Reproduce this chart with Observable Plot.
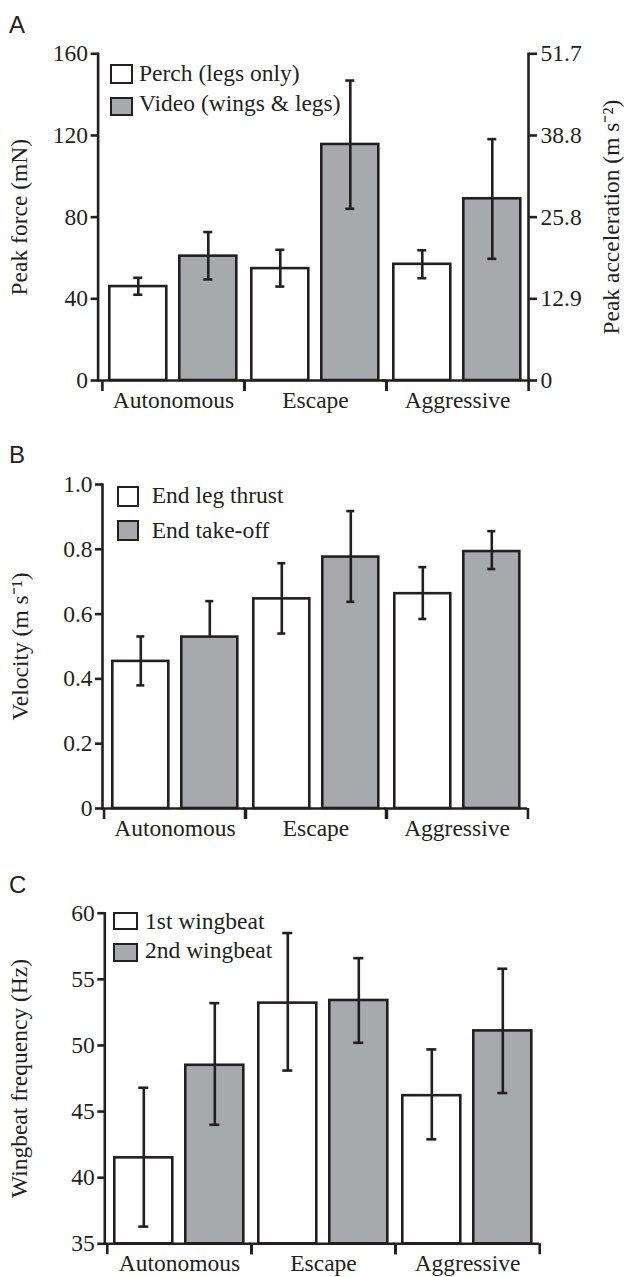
<!DOCTYPE html>
<html>
<head>
<meta charset="utf-8">
<script src="https://cdn.jsdelivr.net/npm/d3@7"></script>
<script src="https://cdn.jsdelivr.net/npm/@observablehq/plot@0.6"></script>
<style>
html, body { margin: 0; padding: 0; background: #fff; width: 624px; height: 1277px; overflow: hidden; }
.panel { position: absolute; left: 0; width: 624px; }
.letter { position: absolute; left: 9px; font-family: "Liberation Sans", Arial, sans-serif; font-size: 24px; line-height: 1; color: #231f20; }
.sw { position: absolute; box-sizing: border-box; border: 2.7px solid #231f20; }
.lt { position: absolute; font-family: "Liberation Serif", "Times New Roman", serif; font-size: 23.5px; line-height: 1; color: #231f20; white-space: nowrap; }
</style>
</head>
<body>
<div id="root"></div>
<script>
// ---------- data ----------
const groups = ["Autonomous", "Escape", "Aggressive"];

// Panel A: peak force (mN)
const seriesA = ["Perch (legs only)", "Video (wings & legs)"];
const perchMean = [46.0, 54.8, 56.9];
const perchLo   = [42.0, 46.0, 50.1];
const perchHi   = [50.3, 64.0, 63.8];
const videoMean = [60.9, 115.6, 89.0];
const videoLo   = [49.5, 84.1, 59.6];
const videoHi   = [72.7, 146.9, 118.2];
const forceTicks = [0, 40, 80, 120, 160];
const forceTickLabels = ["0", "40", "80", "120", "160"];
const accelTickLabels = ["0", "12.9", "25.8", "38.8", "51.7"];

// Panel B: velocity (m s-1)
const seriesB = ["End leg thrust", "End take-off"];
const legThrustMean = [0.454, 0.647, 0.663];
const legThrustLo   = [0.380, 0.540, 0.585];
const legThrustHi   = [0.531, 0.757, 0.745];
const takeOffMean   = [0.529, 0.776, 0.793];
const takeOffLo     = [null, 0.638, 0.739];
const takeOffHi     = [0.640, 0.918, 0.856];
const velocityTicks = [0, 0.2, 0.4, 0.6, 0.8, 1.0];
const velocityTickLabels = ["0", "0.2", "0.4", "0.6", "0.8", "1.0"];

// Panel C: wingbeat frequency (Hz)
const seriesC = ["1st wingbeat", "2nd wingbeat"];
const beat1Mean = [41.5, 53.2, 46.2];
const beat1Lo   = [36.3, 48.1, 42.9];
const beat1Hi   = [46.8, 58.5, 49.7];
const beat2Mean = [48.5, 53.4, 51.1];
const beat2Lo   = [44.0, 50.2, 46.4];
const beat2Hi   = [53.2, 56.6, 55.8];
const freqTicks = [35, 40, 45, 50, 55, 60];
const freqTickLabels = ["35", "40", "45", "50", "55", "60"];

// ---------- style ----------
const INK = "#231f20";
const FILLS = ["#ffffff", "#a7a9ac"];
const FONT = "'Liberation Serif', 'Times New Roman', serif";
const FS = 23.5;
const SW = 2.6;

function rowsFor(series, means, los, his) {
  const rows = [];
  groups.forEach((g, gi) => {
    series.forEach((s, si) => {
      rows.push({group: g, series: s, value: means[si][gi], lo: los[si][gi], hi: his[si][gi]});
    });
  });
  return rows;
}

function makePanel(cfg) {
  const rows = rowsFor(cfg.series, cfg.means, cfg.los, cfg.his);
  const step = (624 - cfg.ml - cfg.mr) / groups.length;
  const y0 = cfg.yDomain[0];
  const fmt = new Map(cfg.yTicks.map((t, i) => [t, cfg.yTickLabels[i]]));
  const marks = [
    Plot.ruleY([y0], {stroke: INK, strokeWidth: SW, insetLeft: cfg.axisDx}),
    Plot.barY(rows, {fx: "group", x: "series", y1: y0, y2: "value", fill: "series", stroke: INK, strokeWidth: SW}),
    Plot.ruleX(rows, {fx: "group", x: "series", y1: d => d.lo ?? d.value, y2: "hi", stroke: INK, strokeWidth: SW}),
    Plot.tickY(rows, {fx: "group", x: "series", y: "hi", stroke: INK, strokeWidth: SW, insetLeft: 24, insetRight: 24}),
    Plot.tickY(rows.filter(d => d.lo != null), {fx: "group", x: "series", y: "lo", stroke: INK, strokeWidth: SW, insetLeft: 24, insetRight: 24}),
    Plot.frame({anchor: "left", facetAnchor: "left", dx: cfg.axisDx, stroke: INK, strokeWidth: SW}),
    Plot.axisY({anchor: "left", ticks: cfg.yTicks, tickFormat: d => fmt.get(d), tickSize: 7, tickPadding: 3, stroke: INK, strokeWidth: SW, dx: cfg.axisDx, label: null}),
    Plot.axisY({anchor: "left", ticks: [], label: cfg.yLabel, labelAnchor: "center", labelOffset: cfg.labelOffset, labelArrow: "none"}),
    Plot.axisFx({anchor: "bottom", tickSize: 0, tickPadding: 11, label: null}),
    Plot.axisFx({anchor: "bottom", fill: "none", tickSize: 11, dx: -step / 2, stroke: INK, strokeWidth: SW, label: null}),
    Plot.axisFx([groups[groups.length - 1]], {anchor: "bottom", fill: "none", tickSize: 11, dx: step / 2, stroke: INK, strokeWidth: SW, label: null})
  ];
  if (cfg.right) {
    const rfmt = new Map(cfg.yTicks.map((t, i) => [t, cfg.right.tickLabels[i]]));
    marks.push(
      Plot.frame({anchor: "right", facetAnchor: "right", stroke: INK, strokeWidth: SW}),
      Plot.axisY({anchor: "right", ticks: cfg.yTicks, tickFormat: d => rfmt.get(d), tickSize: 8, tickPadding: 4, stroke: INK, strokeWidth: SW, label: cfg.right.label, labelAnchor: "center", labelOffset: cfg.right.labelOffset, labelArrow: "none"})
    );
  }
  const chart = Plot.plot({
    width: 624,
    height: cfg.height,
    marginTop: cfg.mt, marginBottom: cfg.mb, marginLeft: cfg.ml, marginRight: cfg.mr,
    style: {fontFamily: FONT, fontSize: FS + "px", color: INK, background: "white", overflow: "visible"},
    facet: {margin: 0},
    fx: {domain: groups, paddingInner: 0, paddingOuter: 0, label: null},
    x: {domain: cfg.series, paddingInner: 0.184, paddingOuter: 0.1, axis: null},
    y: {domain: cfg.yDomain},
    color: {domain: cfg.series, range: FILLS},
    marks
  });

  const wrap = document.createElement("div");
  wrap.className = "panel";
  wrap.style.top = cfg.top + "px";
  wrap.appendChild(chart);

  const letter = document.createElement("div");
  letter.className = "letter";
  letter.textContent = cfg.letter;
  letter.style.top = "12.7px";
  wrap.appendChild(letter);

  cfg.series.forEach((s, i) => {
    const sw = document.createElement("div");
    sw.className = "sw";
    sw.style.left = cfg.legend.boxX + "px";
    sw.style.top = cfg.legend.boxTops[i] + "px";
    sw.style.width = cfg.legend.boxW + "px";
    sw.style.height = cfg.legend.boxH + "px";
    sw.style.background = FILLS[i];
    wrap.appendChild(sw);
    const t = document.createElement("div");
    t.className = "lt";
    t.textContent = s;
    t.style.left = cfg.legend.textX + "px";
    t.style.top = (cfg.legend.baselines[i] - 19.7) + "px";
    wrap.appendChild(t);
  });
  document.getElementById("root").appendChild(wrap);
}

makePanel({
  letter: "A", top: 0, height: 430, mt: 53.3, mb: 50, ml: 101.7, mr: 95.7, axisDx: -4.4,
  series: seriesA,
  means: [perchMean, videoMean], los: [perchLo, videoLo], his: [perchHi, videoHi],
  yDomain: [0, 160], yTicks: forceTicks, yTickLabels: forceTickLabels,
  yLabel: "Peak force (mN)", labelOffset: 92,
  right: {tickLabels: accelTickLabels, label: "Peak acceleration (m s\u207B\u00B2)", labelOffset: 90},
  legend: {boxX: 110, boxW: 23, boxH: 19.5, boxTops: [64, 96.5], textX: 139, baselines: [81.7, 111.7]}
});

makePanel({
  letter: "B", top: 430, height: 430, mt: 54, mb: 52, ml: 102.7, mr: 95.7, axisDx: -2,
  series: seriesB,
  means: [legThrustMean, takeOffMean], los: [legThrustLo, takeOffLo], his: [legThrustHi, takeOffHi],
  yDomain: [0, 1], yTicks: velocityTicks, yTickLabels: velocityTickLabels,
  yLabel: "Velocity (m s\u207B\u00B9)", labelOffset: 93,
  legend: {boxX: 116.7, boxW: 22.6, boxH: 20.5, boxTops: [56, 90], textX: 151.7, baselines: [73.3, 109]}
});

makePanel({
  letter: "C", top: 860, height: 417, mt: 52.7, mb: 33.7, ml: 106.7, mr: 84, axisDx: -2.7,
  series: seriesC,
  means: [beat1Mean, beat2Mean], los: [beat1Lo, beat2Lo], his: [beat1Hi, beat2Hi],
  yDomain: [35, 60], yTicks: freqTicks, yTickLabels: freqTickLabels,
  yLabel: "Wingbeat frequency (Hz)", labelOffset: 97,
  legend: {boxX: 113.3, boxW: 25, boxH: 18.5, boxTops: [51.7, 83.3], textX: 145, baselines: [69.3, 98.3]}
});
</script>
</body>
</html>
